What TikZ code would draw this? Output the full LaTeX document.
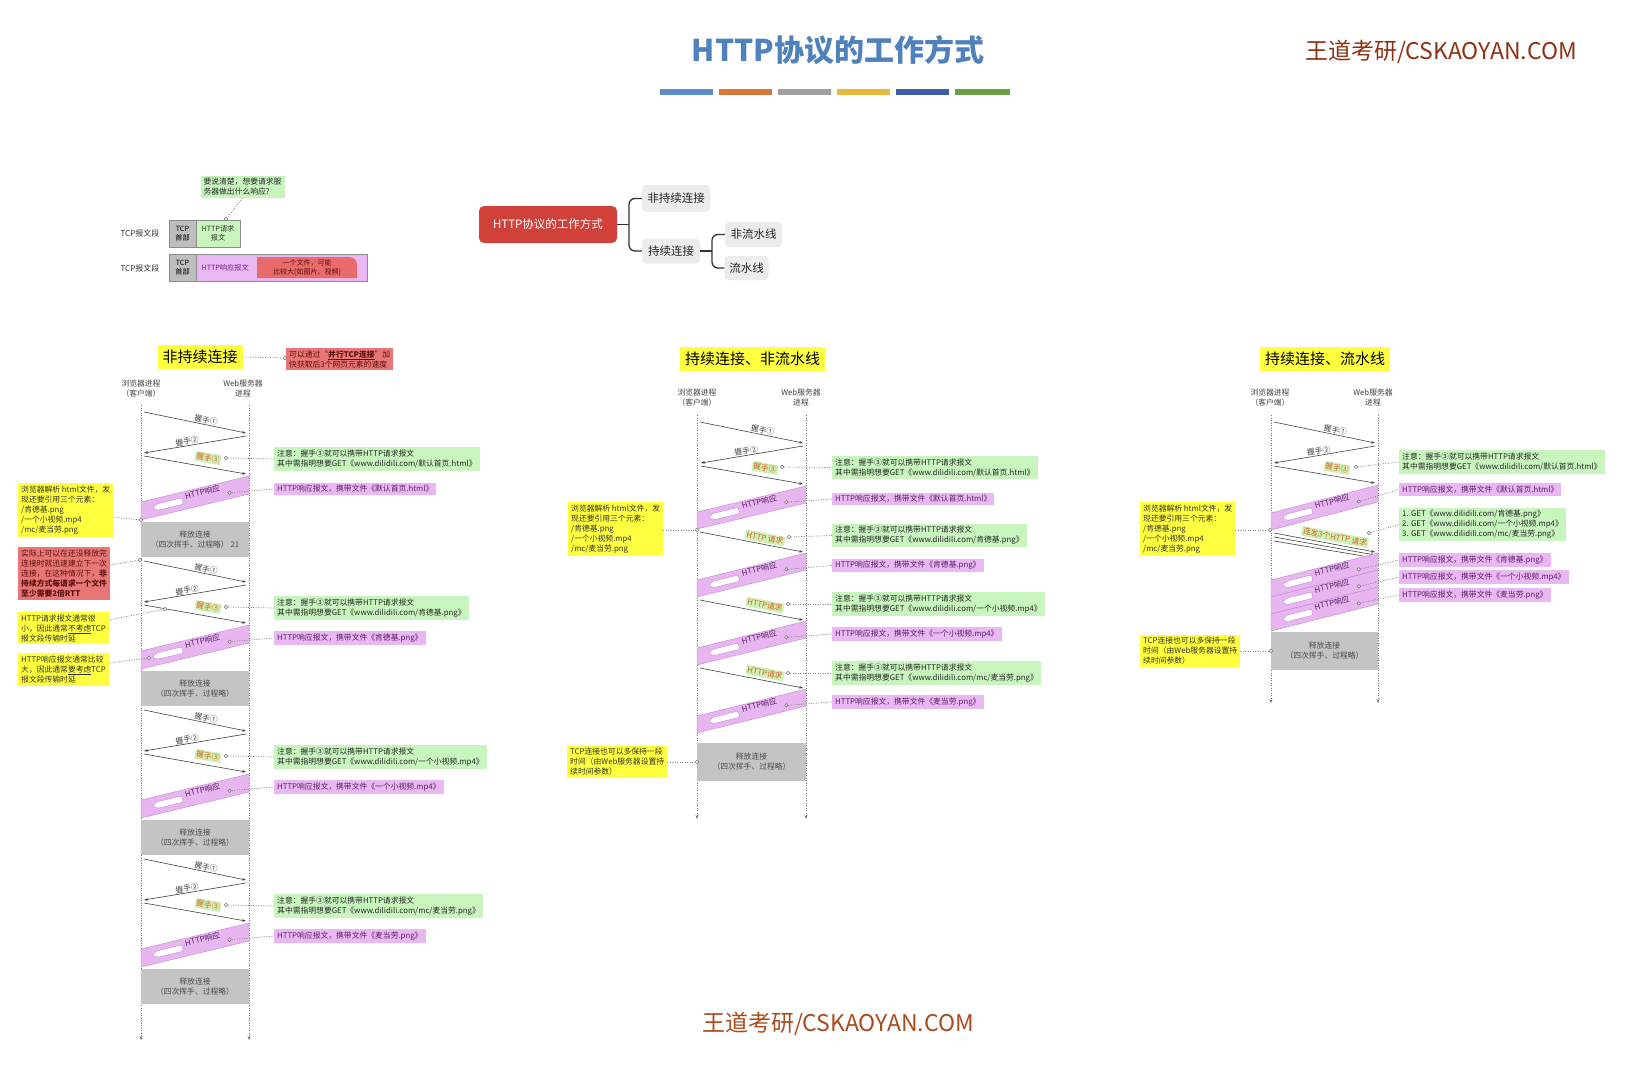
\documentclass[tikz,border=0pt]{standalone}
\usepackage{fontspec}
\setmainfont{Noto Sans CJK SC}
\usetikzlibrary{calc,arrows.meta}

\definecolor{gfill}{RGB}{200,245,190}
\definecolor{pfill}{RGB}{233,184,242}
\definecolor{yfill}{RGB}{255,255,64}
\definecolor{rfill}{RGB}{232,118,118}
\definecolor{rtext}{RGB}{90,15,15}
\definecolor{relgray}{RGB}{196,196,196}
\definecolor{ptext}{RGB}{90,30,105}
\definecolor{otext}{RGB}{220,95,40}
\definecolor{lblgreen}{RGB}{205,240,180}
\definecolor{bandfill}{RGB}{231,182,240}
\definecolor{banddraw}{RGB}{195,135,205}
\definecolor{titleblue}{RGB}{79,129,189}
\definecolor{wmred}{RGB}{140,50,20}
\definecolor{wmorange}{RGB}{170,75,30}
\definecolor{mmred}{RGB}{208,65,58}
\definecolor{mmgray}{RGB}{236,236,236}
\definecolor{barA}{RGB}{91,139,201}
\definecolor{barB}{RGB}{217,119,58}
\definecolor{barC}{RGB}{160,160,160}
\definecolor{barD}{RGB}{232,184,58}
\definecolor{barE}{RGB}{60,95,168}
\definecolor{barF}{RGB}{110,158,72}
\definecolor{tcpgray}{RGB}{190,190,190}
\definecolor{redbig}{RGB}{232,106,106}

\newcommand\nf{\fontsize{7.8}{10}\selectfont}

\tikzset{
  note/.style={inner xsep=3pt, inner ysep=2.5pt, align=left, font=\nf, anchor=west},
  gnote/.style={note, fill=gfill, text=black!85},
  pnote/.style={note, fill=pfill, text=ptext},
  ynote/.style={note, fill=yfill, text=black!80},
  rnote/.style={note, fill=rfill, text=rtext},
  dotc/.style={circle, draw=black!55, fill=white, line width=0.5pt, minimum size=3.6pt, inner sep=0pt},
  conn/.style={draw=black!50, line width=0.7pt, dash pattern=on 1pt off 1.5pt},
  msg/.style={draw=black!75, line width=0.6pt, -{Stealth[length=4pt,width=2.6pt]}},
  msgr/.style={draw=black!75, line width=0.6pt, {Stealth[length=4pt,width=2.6pt]}-},
  life/.style={draw=black!55, line width=0.6pt, dash pattern=on 1pt off 1.5pt, -{Stealth[length=4pt,width=3pt]}},
  hslab/.style={font=\nf, sloped, above, inner sep=0.5pt, text=black!75},
  glab/.style={font=\nf, fill=lblgreen, text=otext, inner sep=1.2pt},
  rel/.style={fill=relgray, align=center, font=\nf, text=black!70, inner sep=0pt},
  hdr/.style={font=\nf, align=center, text=black!75},
  ttl/.style={fill=yfill, font=\fontsize{15}{18}\selectfont, inner xsep=5pt, inner ysep=5pt},
  bandshape/.style={fill=bandfill, draw=banddraw, line width=0.4pt},
  bandarrow/.style={fill=white, draw=banddraw, line width=0.4pt, rounded corners=1.2pt},
  bandtxt/.style={font=\nf, text=ptext, inner sep=0pt},
  mmc/.style={fill=mmgray, rounded corners=4pt, font=\fontsize{11.5}{13}\selectfont, inner sep=0pt, text=black!85},
  mm/.style={draw=black!80, line width=1.3pt, rounded corners=6pt},
  tcpbox/.style={draw=black!45, line width=0.5pt, inner sep=0pt, align=center, font=\fontsize{7.2}{9}\selectfont},
}

% response band: name, xl, xr, y top-left, y top-right, height
\newcommand\respband[6]{%
  \pgfmathsetmacro\bXL{#2}\pgfmathsetmacro\bXR{#3}%
  \pgfmathsetmacro\bYL{#4}\pgfmathsetmacro\bYR{#5}\pgfmathsetmacro\bH{#6}%
  \pgfmathsetmacro\bYLb{\bYL+\bH}\pgfmathsetmacro\bYRb{\bYR+\bH}%
  \pgfmathsetmacro\bYLm{\bYL+\bH/2}\pgfmathsetmacro\bYRm{\bYR+\bH/2}%
  \pgfmathsetmacro\bAng{atan((\bYL-\bYR)/(\bXR-\bXL))}%
  \path[bandshape] (\bXL,\bYL) -- (\bXR,\bYR) -- (\bXR,\bYRb) -- (\bXL,\bYLb) -- cycle;
  \coordinate (#1-l) at (\bXL,\bYLm);
  \coordinate (#1-r) at (\bXR,\bYRm);
  \begin{scope}[shift={($(#1-l)!0.25!(#1-r)$)}, rotate=\bAng]
    \path[bandarrow] (-16,0) -- (-11,-3.2) -- (15,-3.2) -- (15,3.2) -- (-11,3.2) -- cycle;
  \end{scope}
  \node[bandtxt, rotate=\bAng] (#1-t) at ($(#1-l)!0.57!(#1-r)+(0,-4)$) {HTTP响应};
  \node[dotc] (#1-c) at ($(#1-l)!0.82!(#1-r)+(0,3)$) {};
}

% one non-persistent block: offset, green file, pink file, prefix, suffix
\newcommand\leftblock[5]{%
  \draw[msg] (144,{412+#1}) -- node[hslab, pos=0.6]{握手①} (246,{433+#1});
  \draw[msgr] (144,{453+#1}) -- node[hslab, pos=0.43]{握手②} (246,{436+#1});
  \draw[msg] (144,{456+#1}) -- (246,{474+#1});
  \node[glab, rotate=-10] (#4-h3) at (208,{458+#1}) {握手③};
  \node[dotc] (#4-c3) at (226,{458+#1}) {};
  \node[gnote] (#4-g) at (274,{459+#1}) {注意：握手③就可以携带HTTP请求报文\\其中需指明想要GET《www.dilidili.com/#2》};
  \draw[conn] (#4-c3) -- (#4-g.west);
  \respband{#4-b}{141}{249}{502+#1}{476+#1}{18}
  \node[pnote] (#4-p) at (274,{489+#1}) {HTTP响应报文，携带文件《#3》};
  \draw[conn] (#4-b-c) -- (#4-p.west);
  \node[rel, minimum width=108pt, minimum height=35pt] (#4-r) at (195,{539.5+#1}) {释放连接\\（四次挥手、过程略）#5};
}

\begin{document}
\begin{tikzpicture}[x=1pt,y=-1pt]
\useasboundingbox (0,0) rectangle (1649,1068);
\fill[white] (0,0) rectangle (1649,1068);

% ---------- title, bars, watermarks ----------
\node[font=\fontsize{30}{34}\selectfont\bfseries, text=titleblue] (title) at (838,50) {HTTP协议的工作方式};
\fill[barA] (660,89) rectangle (713,95);
\fill[barB] (719,89) rectangle (772,95);
\fill[barC] (778,89) rectangle (831,95);
\fill[barD] (837,89) rectangle (890,95);
\fill[barE] (896,89) rectangle (949,95);
\fill[barF] (955,89) rectangle (1010,95);
\node[font=\fontsize{23}{26}\selectfont, text=wmred] (wm1) at (1441,52) {王道考研/CSKAOYAN.COM};
\node[font=\fontsize{23}{26}\selectfont, text=wmorange] (wm2) at (838,1024) {王道考研/CSKAOYAN.COM};

% ---------- top-left TCP segments ----------
\node[gnote, anchor=center] (callout) at (242.5,187) {要说清楚，想要请求服\\务器做出什么响应?};
\node[font=\fontsize{8}{9}\selectfont, text=black!80] (seg1) at (140,233) {TCP报文段};
\node[tcpbox, fill=tcpgray, minimum width=27pt, minimum height=27pt] (tcp1) at (182.5,233.5) {TCP\\首部};
\node[tcpbox, fill=gfill, minimum width=44pt, minimum height=27pt, text=black!80] (req1) at (218,233.5) {HTTP请求\\报文};
\node[dotc] (cq) at (226,219) {};
\draw[conn] (callout.south) -- (cq);
\node[font=\fontsize{8}{9}\selectfont, text=black!80] (seg2) at (140,268) {TCP报文段};
\node[tcpbox, fill=tcpgray, minimum width=27pt, minimum height=27pt] (tcp2) at (182.5,268) {TCP\\首部};
\node[tcpbox, fill=pfill, minimum width=171pt, minimum height=27pt] (resp2) at (281.5,268) {};
\path[fill=redbig] (257,257) -- (348,257) .. controls (354,257) and (357,260) .. (357,265) -- (357,278) -- (257,278) -- cycle;
\node[font=\fontsize{7.2}{9}\selectfont, text={rgb,255:red,120;green,30;blue,140}, anchor=west] (resptxt) at (198,268) {HTTP响应报文};
\node[font=\fontsize{7}{9}\selectfont, text=rtext, align=center] (bigfile) at (307,267.5) {一个文件，可能\\比较大(如图片、视频)};

% ---------- mind map ----------
\node[fill=mmred, rounded corners=5pt, text=white, font=\fontsize{11.5}{13}\selectfont, minimum width=138pt, minimum height=37pt, inner sep=0pt] (root) at (548,224.5) {HTTP协议的工作方式};
\node[mmc, minimum width=68pt, minimum height=27pt] (m1) at (676,198.5) {非持续连接};
\node[mmc, minimum width=58pt, minimum height=25pt] (m2) at (671,251) {持续连接};
\node[mmc, minimum width=57pt, minimum height=25pt] (m3) at (753.5,234.5) {非流水线};
\node[mmc, minimum width=44pt, minimum height=24pt] (m4) at (746.5,268) {流水线};
\coordinate (br1) at (629,224.5);
\coordinate (br2) at (712,251);
\draw[mm] (root.east) -- (br1);
\draw[mm] (m1.west) -| (br1) |- (m2.west);
\draw[mm] (m2.east) -- (br2);
\draw[mm] (m3.west) -| (br2) |- (m4.west);

% ---------- LEFT column: non-persistent ----------
\node[ttl] (T1) at (200,357) {非持续连接};
\node[rnote] (T1n) at (286,359) {可以通过“\textbf{\underline{并行TCP连接}}”加\\快获取后3个网页元素的速度};
\node[dotc] (cT1) at (285,358) {};
\draw[conn] (T1.east) -- (cT1);
\node[hdr] (LH1) at (141,388.5) {浏览器进程\\（客户端）};
\node[hdr] (LH2) at (243,388.5) {Web服务器\\进程};
\draw[life] (141,405) -- (141,1040);
\draw[life] (249,405) -- (249,1040);

\leftblock{0}{默认首页.html}{默认首页.html}{A}{~21}
\leftblock{149}{肯德基.png}{肯德基.png}{B}{}
\leftblock{298}{一个小视频.mp4}{一个小视频.mp4}{C}{}
\leftblock{447}{mc/麦当劳.png}{麦当劳.png}{D}{}

\node[ynote, anchor=north west] (LyA) at (18,483) {浏览器解析 html文件，发\\现还要引用三个元素：\\/肯德基.png\\/一个小视频.mp4\\/mc/麦当劳.png};
\node[dotc] (cLyA) at (141,520) {};
\draw[conn] ($(LyA.north east)+(0,34)$) -- (cLyA);
\node[rnote, anchor=north west] (LrB) at (18,547) {实际上可以在还没释放完\\连接时就迅速建立下一次\\连接，在这种情况下，\textbf{非}\\\textbf{持续方式每请求一个文件}\\\textbf{至少需要2倍RTT}};
\node[dotc] (cLrB) at (140,560) {};
\draw[conn] ($(LrB.north east)+(0,18)$) -- (cLrB);
\node[ynote, anchor=north west] (LyB1) at (18,612) {HTTP请求报文通常很\\小，因此通常\underline{不考虑}TCP\\报文段传输时延};
\node[dotc] (cLyB1) at (165,609) {};
\draw[conn] ($(LyB1.north east)+(0,8)$) -- (cLyB1);
\node[ynote, anchor=north west] (LyB2) at (18,653) {HTTP响应报文通常比较\\大，因此通常\underline{要考虑}TCP\\报文段传输时延};
\node[dotc] (cLyB2) at (149,658) {};
\draw[conn] ($(LyB2.north east)+(0,10)$) -- (cLyB2);

% ---------- MIDDLE column: persistent, non-pipelined ----------
\node[ttl] (T2) at (752.5,359) {持续连接、非流水线};
\node[hdr] (MH1) at (697,398) {浏览器进程\\（客户端）};
\node[hdr] (MH2) at (801,398) {Web服务器\\进程};
\draw[life] (697,415) -- (697,819);
\draw[life] (806,415) -- (806,819);
\draw[msg] (700,422) -- node[hslab, pos=0.6]{握手①} (803,443);
\draw[msgr] (701,463) -- node[hslab, pos=0.45]{握手②} (803,446);
\draw[msg] (701,466) -- (803,484);
\node[glab, rotate=-10] (M-h3) at (765,468) {握手③};
\node[dotc] (M-c3) at (782,467) {};
\node[gnote] (M-g0) at (832,467.5) {注意：握手③就可以携带HTTP请求报文\\其中需指明想要GET《www.dilidili.com/默认首页.html》};
\draw[conn] (M-c3) -- (M-g0.west);
\respband{M-b0}{697}{806}{512}{486}{17}
\node[pnote] (M-p0) at (832,499) {HTTP响应报文，携带文件《默认首页.html》};
\draw[conn] (M-b0-c) -- (M-p0.west);
\node[ynote, anchor=north west] (My1) at (568,502) {浏览器解析 html文件，发\\现还要引用三个元素：\\/肯德基.png\\/一个小视频.mp4\\/mc/麦当劳.png};
\node[dotc] (cMy1) at (697,530) {};
\draw[conn] (My1.east |- cMy1) -- (cMy1);
% request 1
\draw[msg] (700,532) -- (803,552);
\node[glab, rotate=-11] (M-q1) at (765,538) {HTTP 请求};
\node[dotc] (M-cq1) at (789,537) {};
\node[gnote] (M-g1) at (832,535.5) {注意：握手③就可以携带HTTP请求报文\\其中需指明想要GET《www.dilidili.com/肯德基.png》};
\draw[conn] (M-cq1) -- (M-g1.west);
\respband{M-b1}{697}{806}{580}{553}{17}
\node[pnote] (M-p1) at (832,565.5) {HTTP响应报文，携带文件《肯德基.png》};
\draw[conn] (M-b1-c) -- (M-p1.west);
% request 2
\draw[msg] (700,600) -- (803,620);
\node[glab, rotate=-11] (M-q2) at (765,605) {HTTP请求};
\node[dotc] (M-cq2) at (788,604) {};
\node[gnote] (M-g2) at (832,604) {注意：握手③就可以携带HTTP请求报文\\其中需指明想要GET《www.dilidili.com/一个小视频.mp4》};
\draw[conn] (M-cq2) -- (M-g2.west);
\respband{M-b2}{697}{806}{648}{621}{17}
\node[pnote] (M-p2) at (832,634) {HTTP响应报文，携带文件《一个小视频.mp4》};
\draw[conn] (M-b2-c) -- (M-p2.west);
% request 3
\draw[msg] (700,668) -- (803,688);
\node[glab, rotate=-11] (M-q3) at (765,673) {HTTP请求};
\node[dotc] (M-cq3) at (788,673) {};
\node[gnote] (M-g3) at (832,673) {注意：握手③就可以携带HTTP请求报文\\其中需指明想要GET《www.dilidili.com/mc/麦当劳.png》};
\draw[conn] (M-cq3) -- (M-g3.west);
\respband{M-b3}{697}{806}{716}{689}{17}
\node[pnote] (M-p3) at (832,702) {HTTP响应报文，携带文件《麦当劳.png》};
\draw[conn] (M-b3-c) -- (M-p3.west);
\node[rel, minimum width=109pt, minimum height=38pt] (M-rel) at (751.5,762) {释放连接\\（四次挥手、过程略）};
\node[ynote] (My2) at (567,762) {TCP连接也可以多保持一段\\时间（由Web服务器设置持\\续时间参数）};
\node[dotc] (cMy2) at (697,762) {};
\draw[conn] (My2.east) -- (cMy2);

% ---------- RIGHT column: persistent, pipelined ----------
\node[ttl] (T3) at (1325,359) {持续连接、流水线};
\node[hdr] (RH1) at (1270,398) {浏览器进程\\（客户端）};
\node[hdr] (RH2) at (1373,398) {Web服务器\\进程};
\draw[life] (1271,415) -- (1271,703);
\draw[life] (1378,415) -- (1378,703);
\draw[msg] (1274,422) -- node[hslab, pos=0.6]{握手①} (1375,443);
\draw[msgr] (1274,463) -- node[hslab, pos=0.45]{握手②} (1375,446);
\draw[msg] (1274,466) -- (1375,483);
\node[glab, rotate=-10] (R-h3) at (1337,468) {握手③};
\node[dotc] (R-c3) at (1356,467) {};
\node[gnote] (R-g0) at (1399,462) {注意：握手③就可以携带HTTP请求报文\\其中需指明想要GET《www.dilidili.com/默认首页.html》};
\draw[conn] (R-c3) -- (R-g0.west);
\respband{R-b0}{1271}{1378}{513}{485}{17}
\node[pnote] (R-p0) at (1399,489.5) {HTTP响应报文，携带文件《默认首页.html》};
\draw[conn] (R-b0-c) -- (R-p0.west);
\node[ynote, anchor=north west] (Ry1) at (1140,502) {浏览器解析 html文件，发\\现还要引用三个元素：\\/肯德基.png\\/一个小视频.mp4\\/mc/麦当劳.png};
\node[dotc] (cRy1) at (1270,530) {};
\draw[conn] (Ry1.east |- cRy1) -- (cRy1);
\draw[msg] (1274,533) -- (1375,552);
\draw[msg] (1274,537) -- (1375,555);
\draw[msg] (1274,541) -- (1375,558);
\node[glab, rotate=-10.5] (R-q) at (1335,537) {连发3个HTTP 请求};
\node[dotc] (R-cq) at (1369,533) {};
\node[gnote] (R-g1) at (1399,524.5) {1. GET《www.dilidili.com/肯德基.png》\\2. GET《www.dilidili.com/一个小视频.mp4》\\3. GET《www.dilidili.com/mc/麦当劳.png》};
\draw[conn] (R-cq) -- (R-g1.west);
\respband{R-b1}{1271}{1378}{580}{553}{17}
\respband{R-b2}{1271}{1378}{597}{570}{17}
\respband{R-b3}{1271}{1378}{614}{587}{17}
\node[pnote] (R-p1) at (1399,560) {HTTP响应报文，携带文件《肯德基.png》};
\node[pnote] (R-p2) at (1399,577) {HTTP响应报文，携带文件《一个小视频.mp4》};
\node[pnote] (R-p3) at (1399,595) {HTTP响应报文，携带文件《麦当劳.png》};
\draw[conn] (R-b1-c) -- (R-p1.west);
\draw[conn] (R-b2-c) -- (R-p2.west);
\draw[conn] (R-b3-c) -- (R-p3.west);
\node[rel, minimum width=107pt, minimum height=38pt] (R-rel) at (1324.5,651) {释放连接\\（四次挥手、过程略）};
\node[ynote] (Ry2) at (1140,651) {TCP连接也可以多保持一段\\时间（由Web服务器设置持\\续时间参数）};
\node[dotc] (cRy2) at (1271,651) {};
\draw[conn] (Ry2.east) -- (cRy2);
\end{tikzpicture}
\end{document}
